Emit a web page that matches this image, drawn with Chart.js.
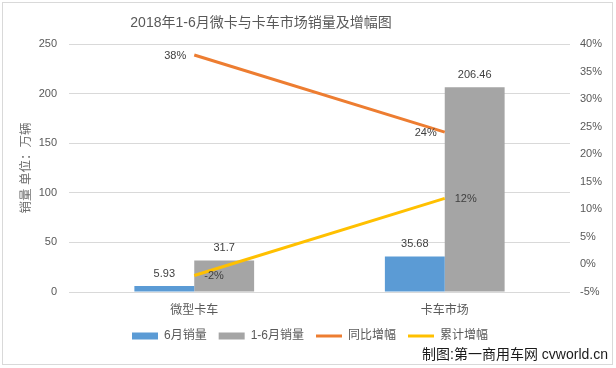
<!DOCTYPE html>
<html>
<head>
<meta charset="utf-8">
<script src="https://cdn.jsdelivr.net/npm/chart.js@4/dist/chart.umd.min.js"></script>
<style>
  html, body { margin: 0; padding: 0; background: #ffffff; }
  #wrap { width: 616px; height: 368px; position: relative; }
</style>
</head>
<body>
<div id="wrap"><canvas id="c" width="616" height="368"></canvas></div>
<script>
const categories = ['微型卡车', '卡车市场'];
const juneSales = [5.93, 35.68];
const halfYearSales = [31.7, 206.46];
const yoyGrowth = [38, 24];
const cumulativeGrowth = [-2, 12];
const seriesNames = ['6月销量', '1-6月销量', '同比增幅', '累计增幅'];
const chartTitle = '2018年1-6月微卡与卡车市场销量及增幅图';
const yAxisTitle = '销量 单位：万辆';
const creditText = '制图:第一商用车网 cvworld.cn';

const FONT = '"Liberation Sans", "Noto Sans CJK SC", sans-serif';
const GREY = '#595959';

const framePlugin = {
  id: 'frame',
  beforeDraw(chart) {
    const ctx = chart.ctx;
    ctx.save();
    ctx.fillStyle = '#ffffff';
    ctx.fillRect(0, 0, chart.width, chart.height);
    ctx.strokeStyle = '#d9d9d9';
    ctx.lineWidth = 1;
    ctx.strokeRect(2.5, 2.5, 610, 362);
    ctx.restore();
  },
  afterDraw(chart) {
    const ctx = chart.ctx;
    ctx.save();
    ctx.fillStyle = GREY;
    ctx.font = '14px ' + FONT;
    ctx.textAlign = 'center';
    ctx.textBaseline = 'middle';
    ctx.fillText(chartTitle, 261, 23);
    ctx.fillStyle = '#1a1a1a';
    ctx.font = '14px ' + FONT;
    ctx.textAlign = 'right';
    ctx.fillText(creditText, 608, 355);
    ctx.restore();
  }
};

const labelPlugin = {
  id: 'valueLabels',
  afterDatasetsDraw(chart) {
    const ctx = chart.ctx;
    ctx.save();
    ctx.font = '11px ' + FONT;
    ctx.fillStyle = '#404040';
    chart.data.datasets.forEach((ds, i) => {
      const meta = chart.getDatasetMeta(i);
      meta.data.forEach((el, j) => {
        const v = ds.data[j];
        if (ds.type === 'bar') {
          ctx.textAlign = 'center';
          ctx.textBaseline = 'bottom';
          ctx.fillText(String(v), el.x, el.y - 7);
        } else {
          ctx.textBaseline = 'middle';
          const txt = v + '%';
          if (ds.labelSide === 'left') {
            ctx.textAlign = 'right';
            ctx.fillText(txt, el.x - 8, el.y + 1);
          } else {
            ctx.textAlign = 'left';
            ctx.fillText(txt, el.x + 10, el.y + 1);
          }
        }
      });
    });
    ctx.restore();
  }
};

new Chart(document.getElementById('c'), {
  data: {
    labels: categories,
    datasets: [
      { type: 'bar', label: seriesNames[0], data: juneSales, backgroundColor: '#5B9BD5', yAxisID: 'y', order: 2, pointStyle: 'rect', barPercentage: 1, categoryPercentage: 0.478 },
      { type: 'bar', label: seriesNames[1], data: halfYearSales, backgroundColor: '#A5A5A5', yAxisID: 'y', order: 2, pointStyle: 'rect', barPercentage: 1, categoryPercentage: 0.478 },
      { type: 'line', label: seriesNames[2], data: yoyGrowth, borderColor: '#ED7D31', backgroundColor: '#ED7D31', borderWidth: 3, pointRadius: 0, pointStyle: 'line', yAxisID: 'y1', order: 0, labelSide: 'left' },
      { type: 'line', label: seriesNames[3], data: cumulativeGrowth, borderColor: '#FFC000', backgroundColor: '#FFC000', borderWidth: 3, pointRadius: 0, pointStyle: 'line', yAxisID: 'y1', order: 0, labelSide: 'right' }
    ]
  },
  options: {
    responsive: false,
    animation: false,
    devicePixelRatio: 1,
    layout: { padding: { left: 8, right: 4, top: 44, bottom: 16 } },
    plugins: {
      title: { display: false },
      tooltip: { enabled: false },
      legend: {
        position: 'bottom',
        labels: {
          usePointStyle: true,
          pointStyleWidth: 26,
          boxHeight: 7,
          padding: 12,
          color: GREY,
          font: { size: 12, family: FONT },
          sort: (a, b) => a.datasetIndex - b.datasetIndex
        }
      }
    },
    scales: {
      x: {
        grid: { display: false, drawTicks: false },
        border: { display: false },
        ticks: { color: GREY, padding: 11, font: { size: 12, family: FONT } },
        afterFit(s) { s.height = 26; }
      },
      y: {
        position: 'left',
        min: 0, max: 250,
        ticks: { stepSize: 50, color: GREY, padding: 12, font: { size: 11, family: FONT } },
        grid: { color: '#d9d9d9', lineWidth: 1, drawTicks: false },
        border: { display: false },
        title: { display: true, text: yAxisTitle, color: '#6f6f6f', padding: { top: 11, bottom: 0 }, font: { size: 12.5, family: FONT } },
        afterFit(s) { s.width = 61; }
      },
      y1: {
        position: 'right',
        min: -5, max: 40,
        ticks: { stepSize: 5, color: GREY, padding: 10, font: { size: 11, family: FONT }, callback: v => v + '%' },
        grid: { display: false, drawTicks: false },
        border: { display: false },
        afterFit(s) { s.width = 42; }
      }
    }
  },
  plugins: [framePlugin, labelPlugin]
});
</script>
</body>
</html>
